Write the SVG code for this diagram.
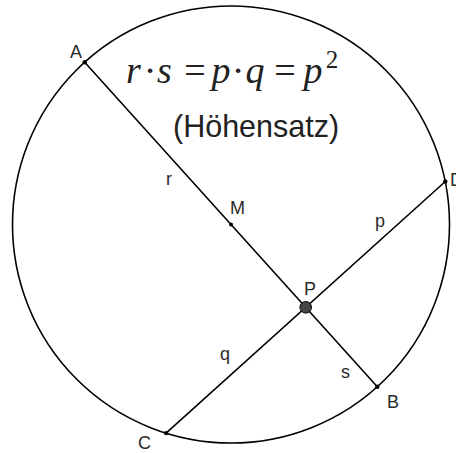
<svg xmlns="http://www.w3.org/2000/svg" width="456" height="453" viewBox="0 0 456 453">
<style>
.ln{stroke:#000;stroke-width:1.6;fill:none;stroke-linecap:round}
.pt{fill:#000}
.lbl{font-family:"Liberation Sans",Arial,sans-serif;font-size:18px;fill:#2a2a2a}
.mi{font-family:"Liberation Serif","Times New Roman",serif;font-style:italic;font-size:38px;fill:#222;text-anchor:middle}
.mo{font-family:"Liberation Serif","Times New Roman",serif;font-size:38px;fill:#222;text-anchor:middle}
.title{font-family:"Liberation Sans",Arial,sans-serif;font-size:30.5px;fill:#222}
</style>
<rect width="456" height="453" fill="#fff"/>
<g id="circle">
<circle class="ln" cx="231" cy="224.5" r="218.5"/>
</g>
<g id="connectors">
<line id="AB" class="ln" x1="84.7" y1="62.2" x2="377.3" y2="386.8"/>
<line id="CD" class="ln" x1="166.1" y1="433.1" x2="445.3" y2="181.5"/>
<text class="lbl" x="166" y="185">r</text>
<text class="lbl" x="341" y="378">s</text>
<text class="lbl" x="375" y="227">p</text>
<text class="lbl" x="220" y="360">q</text>
</g>
<g id="A"><circle class="pt" cx="84.7" cy="62.2" r="2.2"/><text class="lbl" x="70" y="58">A</text></g>
<g id="B"><circle class="pt" cx="377.3" cy="386.8" r="2.2"/><text class="lbl" x="387" y="408">B</text></g>
<g id="C"><circle class="pt" cx="166.1" cy="433.1" r="2.2"/><text class="lbl" x="138" y="449">C</text></g>
<g id="D"><circle class="pt" cx="445.3" cy="181.5" r="2.2"/><text class="lbl" x="450" y="186">D</text></g>
<g id="M"><circle class="pt" cx="231" cy="224.5" r="2"/><text class="lbl" x="230" y="214">M</text></g>
<g id="P"><circle cx="305.7" cy="307.3" r="5.8" fill="#444" stroke="#000" stroke-width="1"/><text class="lbl" x="304" y="295">P</text></g>
<g id="formula">
<text class="mi" x="133.5" y="83">r</text>
<text class="mo" x="150" y="83">·</text>
<text class="mi" x="164.5" y="83">s</text>
<text class="mo" x="195" y="83">=</text>
<text class="mi" x="221" y="83">p</text>
<text class="mo" x="238" y="83">·</text>
<text class="mi" x="255" y="83">q</text>
<text class="mo" x="285" y="83">=</text>
<text class="mi" x="313" y="83">p</text>
<text class="mo" x="332" y="68" style="font-size:25px">2</text>
</g>
<g id="caption">
<text class="title" x="173" y="137">(Höhensatz)</text>
</g>
</svg>
